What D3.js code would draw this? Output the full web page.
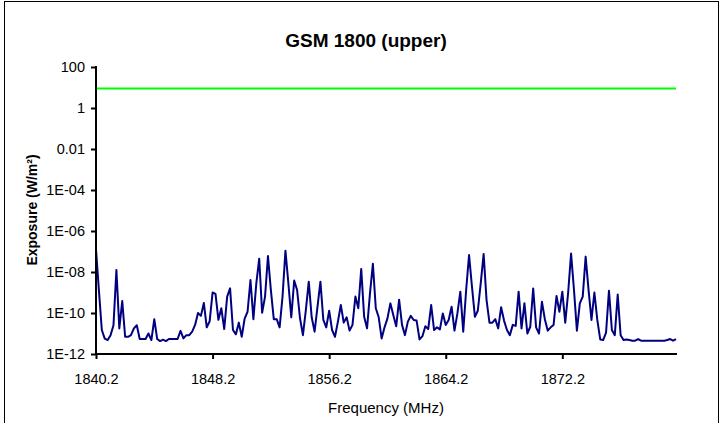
<!DOCTYPE html>
<html>
<head>
<meta charset="utf-8">
<script src="https://cdn.jsdelivr.net/npm/d3@7"></script>
<style>
  body { margin: 0; background: #fff; }
  text { font-family: "Liberation Sans", Arial, sans-serif; }
</style>
</head>
<body>
<div class="gsm_chart"></div>
<script>
// channel frequencies: 200 kHz steps starting at 1840.2 MHz
var freqStart = 1840.2, freqStep = 0.2;

// exposure, as log10(W/m2)
var exposureLog = [
  -6.9, -8.9, -10.83, -11.25, -11.32, -11.08, -10.6, -7.9, -10.75, -9.42,
  -11.16, -11.16, -11.08, -10.75, -10.6, -11.27, -11.27, -11.27, -11.0, -11.32,
  -10.3, -11.27, -11.37, -11.3, -11.37, -11.27, -11.27, -11.27, -11.27, -10.87,
  -11.24, -11.08, -11.08, -10.91, -10.58, -10.0, -10.14, -9.51, -10.7, -10.4,
  -9.0, -9.07, -10.33, -9.77, -10.78, -9.2, -8.8, -10.83, -11.04, -10.47,
  -11.16, -10.27, -9.94, -8.39, -10.3, -8.56, -7.35, -9.99, -9.2, -7.22,
  -8.88, -10.3, -10.3, -10.7, -9.2, -6.96, -8.55, -10.21, -8.42, -8.88,
  -10.26, -11.08, -9.86, -8.47, -10.21, -10.91, -9.69, -8.47, -10.34, -10.7,
  -9.89, -10.83, -11.16, -10.42, -9.61, -10.47, -10.21, -10.86, -10.58, -9.2,
  -9.77, -7.85, -10.18, -10.75, -9.04, -7.6, -9.77, -10.21, -11.24, -10.7,
  -10.26, -9.53, -10.1, -10.65, -9.35, -10.58, -11.08, -10.42, -10.14, -10.34,
  -10.37, -11.29, -11.13, -10.65, -10.78, -9.61, -10.83, -10.7, -10.8, -10.02,
  -10.58, -10.34, -9.69, -10.86, -10.02, -8.96, -10.91, -8.88, -7.17, -8.72,
  -10.18, -9.89, -8.55, -7.12, -9.37, -10.47, -10.47, -10.3, -10.75, -9.72,
  -10.37, -10.83, -11.08, -10.58, -10.63, -8.96, -10.75, -9.53, -11.0, -10.67,
  -8.8, -10.7, -11.0, -9.45, -10.3, -10.86, -10.7, -10.58, -9.17, -9.94,
  -8.96, -10.47, -9.0, -7.1, -8.88, -10.86, -9.53, -9.2, -7.25, -8.88,
  -10.34, -9.0, -10.34, -11.29, -11.32, -10.96, -8.91, -10.83, -11.08, -9.1,
  -11.08, -11.32, -11.29, -11.32, -11.35, -11.35, -11.27, -11.35, -11.35, -11.35,
  -11.35, -11.35, -11.35, -11.35, -11.35, -11.35, -11.32, -11.27, -11.35, -11.27
];

// reference level (W/m2)
var limitValue = 9;

var yTickValues = [100, 1, 0.01, 1e-4, 1e-6, 1e-8, 1e-10, 1e-12];
var yTickLabels = ["100", "1", "0.01", "1E-04", "1E-06", "1E-08", "1E-10", "1E-12"];
var xTickValues = [1840.2, 1848.2, 1856.2, 1864.2, 1872.2];
var xTickLabels = ["1840.2", "1848.2", "1856.2", "1864.2", "1872.2"];

var data = exposureLog.map(function(e, i) {
  return { freq: freqStart + i * freqStep, value: Math.pow(10, e) };
});

var width = 724, height = 423;

var svg = d3.select(".gsm_chart")
  .append("svg")
  .attr("width", width)
  .attr("height", height);

// chart area border
svg.append("rect")
  .attr("x", 4.5).attr("y", 1.5)
  .attr("width", 714).attr("height", 440)
  .attr("fill", "none")
  .attr("stroke", "#000")
  .attr("stroke-width", 1);

var x = d3.scaleLinear()
  .domain([freqStart, freqStart + (exposureLog.length - 1) * freqStep])
  .range([96, 676]);

var y = d3.scaleLog()
  .domain([1e-12, 100])
  .range([354, 67]);

// limit line
svg.append("line")
  .attr("x1", x.range()[0]).attr("x2", x.range()[1])
  .attr("y1", y(limitValue)).attr("y2", y(limitValue))
  .attr("stroke", "#00ff00")
  .attr("stroke-width", 2);

// measured exposure
var line = d3.line()
  .x(function(d) { return x(d.freq); })
  .y(function(d) { return y(d.value); });

svg.append("path")
  .datum(data)
  .attr("d", line)
  .attr("fill", "none")
  .attr("stroke", "#000080")
  .attr("stroke-width", 2)
  .attr("stroke-linejoin", "round");

var yAxis = d3.axisLeft(y)
  .tickValues(yTickValues)
  .tickSize(5)
  .tickPadding(6)
  .tickFormat(function(d, i) { return yTickLabels[i]; });

var xAxis = d3.axisBottom(x)
  .tickValues(xTickValues)
  .tickSize(5)
  .tickPadding(15)
  .tickFormat(function(d, i) { return xTickLabels[i]; });

var gy = svg.append("g")
  .attr("transform", "translate(96,0)")
  .call(yAxis);

var gx = svg.append("g")
  .attr("transform", "translate(0,354)")
  .call(xAxis);

[gx, gy].forEach(function(g) {
  g.select(".domain").attr("stroke-width", 2);
  g.selectAll(".tick line").attr("stroke-width", 2);
  g.selectAll(".tick text")
    .style("font-size", "14.5px")
    .style("font-family", "'Liberation Sans', Arial, sans-serif")
    .attr("fill", "#000");
});

// axis lines without end caps, x axis runs to the end of the plot
gx.select(".domain").attr("d", "M96,0H677");
gy.select(".domain").attr("d", "M0,355V66");

svg.append("text")
  .attr("x", 366)
  .attr("y", 47)
  .attr("text-anchor", "middle")
  .style("font-size", "19px")
  .style("font-weight", "bold")
  .text("GSM 1800 (upper)");

svg.append("text")
  .attr("x", 386)
  .attr("y", 413)
  .attr("text-anchor", "middle")
  .style("font-size", "15px")
  .text("Frequency (MHz)");

svg.append("text")
  .attr("transform", "translate(37,210) rotate(-90)")
  .attr("text-anchor", "middle")
  .style("font-size", "14px")
  .style("font-weight", "bold")
  .text("Exposure (W/m²)");
</script>
</body>
</html>
